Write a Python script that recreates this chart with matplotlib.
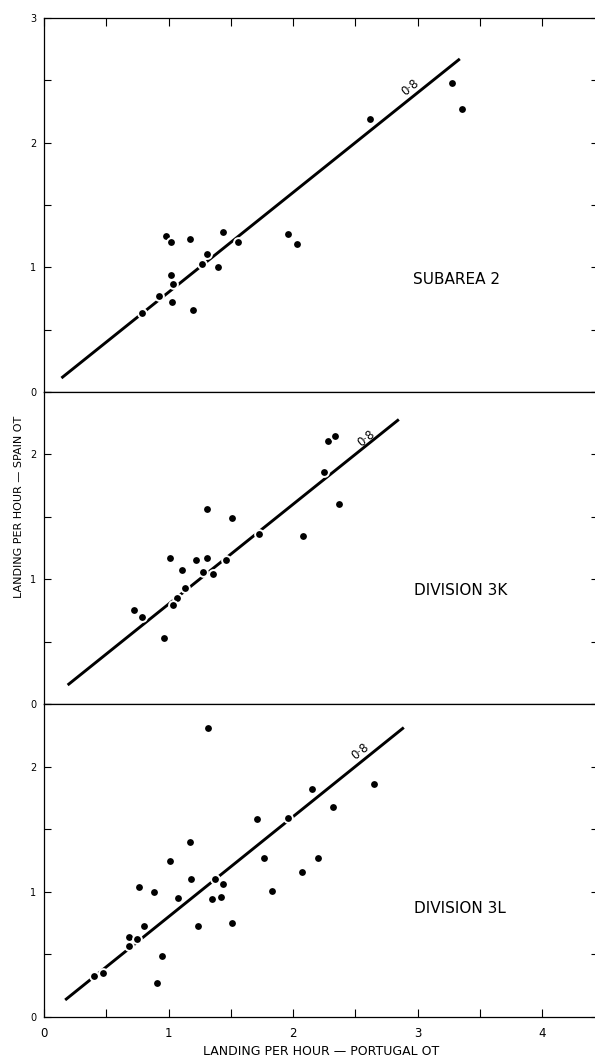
import numpy as np
import matplotlib
matplotlib.use('Agg')
import matplotlib.pyplot as plt
from matplotlib.ticker import MultipleLocator

# landing per hour: Portugal OT (x) vs Spain OT (y)
sub2_x = [0.98, 1.02, 1.17, 1.44, 1.56, 1.96, 2.03, 1.31, 1.27, 1.40, 1.02, 1.04,
          0.92, 1.03, 1.20, 0.79, 2.62, 3.28, 3.36]
sub2_y = [1.25, 1.20, 1.23, 1.28, 1.20, 1.27, 1.19, 1.11, 1.03, 1.00, 0.94, 0.87,
          0.77, 0.72, 0.66, 0.63, 2.19, 2.48, 2.27]

div3k_x = [0.72, 0.79, 0.96, 1.01, 1.11, 1.13, 1.07, 1.04, 1.22, 1.31, 1.31, 1.28,
           1.36, 1.46, 1.51, 1.73, 2.08, 2.25, 2.28, 2.34, 2.37]
div3k_y = [0.75, 0.70, 0.53, 1.17, 1.07, 0.93, 0.85, 0.79, 1.15, 1.17, 1.56, 1.06,
           1.04, 1.15, 1.49, 1.36, 1.35, 1.86, 2.11, 2.15, 1.60]

div3l_x = [1.32, 2.65, 2.15, 2.32, 1.71, 1.96, 1.17, 1.01, 1.77, 2.20, 2.07, 1.18,
           1.37, 1.44, 0.76, 0.88, 1.08, 1.35, 1.42, 1.83, 0.80, 1.24, 1.51, 0.68,
           0.75, 0.68, 0.95, 0.40, 0.47, 0.91]
div3l_y = [2.31, 1.86, 1.82, 1.68, 1.58, 1.59, 1.40, 1.25, 1.27, 1.27, 1.16, 1.10,
           1.10, 1.06, 1.04, 1.00, 0.95, 0.94, 0.96, 1.01, 0.73, 0.73, 0.75, 0.64,
           0.62, 0.57, 0.49, 0.33, 0.35, 0.27]

panel_names = ['SUBAREA 2', 'DIVISION 3K', 'DIVISION 3L']
slope = 0.8
fit_start = [0.14, 0.19, 0.17]
fit_end = [3.34, 2.85, 2.89]
y_top = [3.0, 2.5, 2.5]

plt.rcParams.update({'font.family': 'DejaVu Sans', 'axes.linewidth': 0.9})

fig = plt.figure(figsize=(5.95, 10.57), dpi=100)
W, H = 595, 1057
left = 44 / W
width = 4.45 * 124.5 / W
# pixel spans (top, bottom) of the three stacked panels
spans = [(18, 392), (392, 704), (704, 1017)]
data = [(sub2_x, sub2_y), (div3k_x, div3k_y), (div3l_x, div3l_y)]
label_pos = [(2.94, 2.44), (2.59, 2.13), (2.54, 2.12)]
name_pos = [(2.96, 0.90), (2.97, 0.91), (2.97, 0.87)]

for i, ((t, b), (xs, ys)) in enumerate(zip(spans, data)):
    ax = fig.add_axes([left, 1 - b / H, width, (b - t) / H])
    ax.set_xlim(0, 4.45)
    ax.set_ylim(0, y_top[i])

    lx = np.array([fit_start[i], fit_end[i]])
    ax.plot(lx, slope * lx, color='black', lw=2.1, solid_capstyle='butt', zorder=2)
    ax.scatter(xs, ys, s=40, color='black', edgecolors='white', linewidths=1.4, zorder=3)

    ax.text(*label_pos[i], '0·8', rotation=39, fontsize=8.5, ha='center', va='center')
    ax.text(*name_pos[i], panel_names[i], fontsize=11, ha='left', va='center')

    ax.yaxis.set_major_locator(MultipleLocator(1))
    ax.yaxis.set_minor_locator(MultipleLocator(0.5))
    ax.xaxis.set_major_locator(MultipleLocator(1))
    ax.xaxis.set_minor_locator(MultipleLocator(0.5))
    ax.tick_params(axis='y', which='both', direction='in', length=5, width=0.8,
                   right=True, labelsize=7, pad=5.5)
    ax.spines['right'].set_visible(False)

    if i == 0:
        ax.tick_params(axis='x', which='both', direction='in', length=6, width=0.8,
                       top=True, bottom=False, labelbottom=False)
    elif i == 1:
        ax.tick_params(axis='x', which='both', bottom=False, top=False, labelbottom=False)
    else:
        ax.tick_params(axis='x', which='both', direction='in', length=6, width=0.8,
                       top=False, labelsize=8.5, pad=7)
        ax.set_xlabel('LANDING PER HOUR — PORTUGAL OT', fontsize=9, labelpad=4)

fig.text(19 / W, 1 - 507 / H, 'LANDING PER HOUR — SPAIN OT', rotation=90,
         fontsize=8, ha='center', va='center')

fig.savefig('out.png', dpi=100)
